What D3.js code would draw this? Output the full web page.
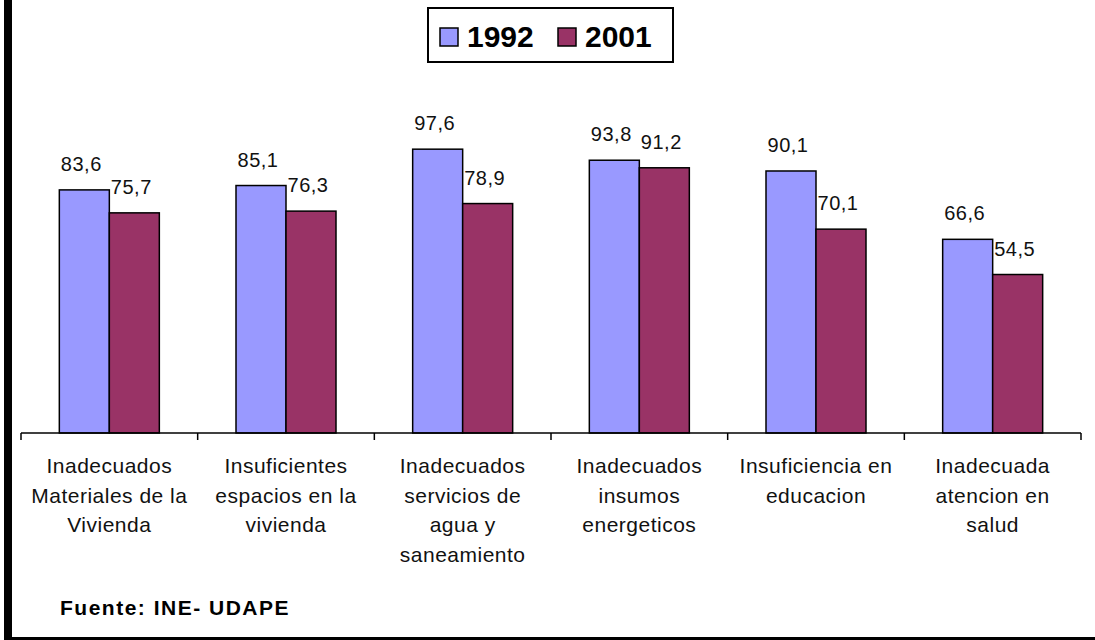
<!DOCTYPE html>
<html>
<head>
<meta charset="utf-8">
<script src="https://cdn.jsdelivr.net/npm/d3@7"></script>
<style>
  body { margin: 0; background: #fff; }
  svg { display: block; font-family: "Liberation Sans", Arial, sans-serif; }
</style>
</head>
<body>
<div id="vis"></div>
<script>
var categories = [
  ["Inadecuados", "Materiales de la", "Vivienda"],
  ["Insuficientes", "espacios en la", "vivienda"],
  ["Inadecuados", "servicios de", "agua y", "saneamiento"],
  ["Inadecuados", "insumos", "energeticos"],
  ["Insuficiencia en", "educacion"],
  ["Inadecuada", "atencion en", "salud"]
];
var years = ["1992", "2001"];
var values1992 = [83.6, 85.1, 97.6, 93.8, 90.1, 66.6];
var values2001 = [75.7, 76.3, 78.9, 91.2, 70.1, 54.5];
var colors = ["#9999ff", "#993366"];

var W = 1095, H = 640;
var svg = d3.select("#vis").append("svg").attr("width", W).attr("height", H);

// frame: thick left edge, thin bottom edge
svg.append("rect").attr("x", 4).attr("y", 0).attr("width", 8).attr("height", H).attr("fill", "#000");
svg.append("rect").attr("x", 4).attr("y", 637).attr("width", W - 4).attr("height", 3).attr("fill", "#000");

var x0 = d3.scaleBand().domain(d3.range(categories.length)).range([21, 1081]);
var x1 = d3.scaleBand().domain([0, 1]).range([0, 100]);
var y = d3.scaleLinear().domain([0, 100]).range([433, 142.2]);

var series = [values1992, values2001];
var bars = [];
series.forEach(function(vals, s) {
  vals.forEach(function(v, i) { bars.push({s: s, i: i, v: v}); });
});

function bx(d) { return x0(d.i) + x0.bandwidth() / 2 - 50 + x1(d.s); }

svg.selectAll(".bar").data(bars).enter().append("rect")
    .attr("class", "bar")
    .attr("x", bx)
    .attr("y", function(d) { return y(d.v); })
    .attr("width", x1.bandwidth())
    .attr("height", function(d) { return y(0) - y(d.v); })
    .attr("fill", function(d) { return colors[d.s]; })
    .attr("stroke", "#000")
    .attr("stroke-width", 1.5);

svg.selectAll(".lbl").data(bars).enter().append("text")
    .attr("class", "lbl")
    .attr("x", function(d) { return bx(d) + x1.bandwidth() / 2 - 3; })
    .attr("y", function(d) { return y(d.v) - 19; })
    .attr("text-anchor", "middle")
    .attr("font-size", 20)
    .attr("letter-spacing", 0.5)
    .attr("fill", "#111")
    .text(function(d) { return d3.format(".1f")(d.v).replace(".", ","); });

// category axis
var axis = svg.append("g");
axis.append("line").attr("x1", 21).attr("x2", 1081).attr("y1", 433).attr("y2", 433)
    .attr("stroke", "#000").attr("stroke-width", 1.5);
var ticks = d3.range(categories.length + 1).map(function(i) { return 21 + i * x0.bandwidth(); });
axis.selectAll(".tick").data(ticks).enter().append("line")
    .attr("x1", function(d) { return d; }).attr("x2", function(d) { return d; })
    .attr("y1", 433).attr("y2", 440)
    .attr("stroke", "#000").attr("stroke-width", 1.5);

var cat = svg.selectAll(".cat").data(categories).enter().append("text")
    .attr("class", "cat")
    .attr("text-anchor", "middle")
    .attr("font-size", 21)
    .attr("letter-spacing", 0.5)
    .attr("fill", "#111");
cat.selectAll("tspan").data(function(d, i) { return d.map(function(t) { return {t: t, i: i}; }); })
  .enter().append("tspan")
    .attr("x", function(d) { return x0(d.i) + x0.bandwidth() / 2; })
    .attr("y", function(d, j) { return 473 + j * 29.5; })
    .text(function(d) { return d.t; });

// legend
var lg = svg.append("g");
lg.append("rect").attr("x", 428).attr("y", 8).attr("width", 245).attr("height", 54)
    .attr("fill", "#fff").attr("stroke", "#000").attr("stroke-width", 2);
var li = lg.selectAll(".li").data(years).enter().append("g")
    .attr("transform", function(d, i) { return "translate(" + (440 + i * 118) + ",0)"; });
li.append("rect").attr("x", 0).attr("y", 28).attr("width", 18).attr("height", 18)
    .attr("fill", function(d, i) { return colors[i]; })
    .attr("stroke", "#000").attr("stroke-width", 1.5);
li.append("text").attr("x", 27).attr("y", 47)
    .attr("font-size", 30).attr("font-weight", "bold").attr("fill", "#000")
    .text(function(d) { return d; });

svg.append("text").attr("x", 60).attr("y", 615)
    .attr("font-size", 21).attr("font-weight", "bold").attr("letter-spacing", 1.5).attr("fill", "#000")
    .text("Fuente: INE- UDAPE");
</script>
</body>
</html>
